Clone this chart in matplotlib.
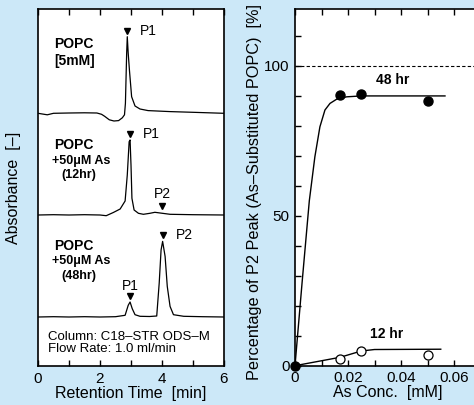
import matplotlib
matplotlib.use('Agg')
import matplotlib.pyplot as plt

plt.rcParams['font.family'] = ['Liberation Sans', 'DejaVu Sans']

BG = '#cce8f8'

# --- chromatograms: retention time [min] and absorbance above baseline [a.u.]
t_popc = [0.0, 0.3, 0.5, 1.0, 1.5, 1.9, 2.05, 2.15, 2.3, 2.45, 2.6, 2.72, 2.79,
          2.82, 2.86, 2.88, 2.91, 2.95, 3.02, 3.13, 3.29, 3.55, 4.26, 5.0, 6.0]
a_popc = [0.0, -1.5, 0.0, 0.3, 0.5, 0.3, -1.0, -3.0, -6.5, -7.7, -7.3, -4.5, -1.5,
          10.0, 60.0, 76.6, 60.0, 43.0, 16.6, 7.3, 4.3, 2.7, 1.7, 1.0, 0.0]

t_12hr = [0.0, 0.5, 1.0, 1.5, 2.0, 2.2, 2.43, 2.65, 2.81, 2.88, 2.94, 2.97, 3.0,
          3.03, 3.1, 3.24, 3.4, 3.61, 3.77, 3.94, 4.26, 5.0, 6.0]
a_12hr = [0.0, 0.3, 0.0, 0.3, 0.0, -0.7, 2.5, 6.0, 14.0, 40.0, 73.3, 75.0, 50.0,
          16.7, 5.0, 1.7, 0.7, 1.7, 2.7, 2.0, 0.7, 0.3, 0.0]

t_48hr = [0.0, 0.5, 1.0, 1.5, 2.0, 2.5, 2.81, 2.91, 2.97, 3.04, 3.13, 3.29, 3.6,
          3.83, 3.91, 3.97, 4.02, 4.1, 4.17, 4.26, 4.37, 4.7, 5.3, 6.0]
a_48hr = [0.0, 0.3, 0.0, 0.3, 0.0, 0.3, 1.7, 11.7, 15.0, 8.3, 2.3, 0.7, 0.5,
          1.0, 34.0, 67.0, 75.6, 60.6, 30.6, 10.6, 2.3, 0.7, 0.3, 0.0]

# peak marks
peak_t = [2.88, 2.97, 4.0, 2.97, 4.02]
peak_a = [76.6, 75.0, 2.7, 15.0, 75.6]
peak_lbl = ['P1', 'P1', 'P2', 'P1', 'P2']
peak_trace = [0, 1, 1, 2, 2]

# sample labels, one entry per line: (text, x [min], font size)
sample_lbl = [
    [('POPC', 0.53, 10), ('[5mM]', 0.53, 10)],
    [('POPC', 0.53, 10), ('+50\u03bcM As', 0.45, 9), ('(12hr)', 0.77, 9)],
    [('POPC', 0.53, 10), ('+50\u03bcM As', 0.45, 9), ('(48hr)', 0.77, 9)],
]
sample_y = [[322, 304.5], [220.5, 205, 191], [120, 105, 90]]

# --- percentage of P2 peak vs As concentration
conc_48 = [0.0, 0.017, 0.025, 0.050]
pct_48 = [0.0, 90.3, 90.7, 88.4]
conc_12 = [0.017, 0.025, 0.050]
pct_12 = [2.2, 5.0, 3.6]

fit48_x = [0.0, 0.0027, 0.0054, 0.0075, 0.0094, 0.0113, 0.0132, 0.0157, 0.0195, 0.025, 0.0566]
fit48_y = [0.0, 28.0, 55.0, 69.7, 79.7, 85.3, 87.5, 88.9, 89.7, 90.0, 90.0]
fit12_x = [0.0, 0.017, 0.025, 0.030, 0.055]
fit12_y = [0.0, 2.8, 4.9, 5.4, 5.5]

fig = plt.figure(figsize=(4.74, 4.05), dpi=100)
fig.patch.set_facecolor(BG)

# ---------------- left panel
ax1 = fig.add_axes([38 / 474, 39 / 405, 186 / 474, 357 / 405])
ax1.set_facecolor('white')
offsets = [252.7, 151.0, 49.0]
traces = [(t_popc, a_popc), (t_12hr, a_12hr), (t_48hr, a_48hr)]
for (t, a), off in zip(traces, offsets):
    ax1.plot(t, [v + off for v in a], color='black', lw=0.9)

for tr, pt, pa, lbl in zip(peak_trace, peak_t, peak_a, peak_lbl):
    y = offsets[tr] + pa + 6
    ax1.plot(pt, y, marker='v', color='black', ms=5, ls='none')
    if tr == 2 and lbl == 'P1':
        ax1.text(pt, y + 10, lbl, ha='center', va='center', fontsize=10)
    elif tr == 1 and lbl == 'P2':
        ax1.text(pt, y + 12, lbl, ha='center', va='center', fontsize=10)
    else:
        ax1.text(pt + 0.42, y, lbl, ha='left', va='center', fontsize=10)

for lines, ys in zip(sample_lbl, sample_y):
    for (txt, x, fs), y in zip(lines, ys):
        ax1.text(x, y, txt, ha='left', va='center', fontsize=fs, fontweight='bold')

ax1.text(0.33, 23, 'Column: C18\u2013STR ODS\u2013M\nFlow Rate: 1.0 ml/min',
         ha='left', va='center', fontsize=9.5, linespacing=1.0)

ax1.set_xlim(0, 6)
ax1.set_ylim(0, 357)
ax1.set_xticks([0, 1, 2, 3, 4, 5, 6])
ax1.set_xticklabels(['0', '', '2', '', '4', '', '6'])
ax1.set_yticks([])
ax1.tick_params(axis='x', direction='in', top=True, length=4, width=1,
                labelsize=11, pad=4)
for s in ax1.spines.values():
    s.set_linewidth(1.2)
ax1.set_xlabel('Retention Time  [min]', fontsize=11.5, labelpad=0)
fig.text(13.5 / 474, 1 - 188 / 405, 'Absorbance  [\u2013]', rotation=90,
         ha='center', va='center', fontsize=11.5)

# ---------------- right panel
ax2 = fig.add_axes([295 / 474, 39.3 / 405, 185.5 / 474, 356.7 / 405])
ax2.set_facecolor('white')
ax2.axhline(100, color='black', lw=0.8, ls=(0, (3, 2)))
ax2.plot(fit48_x, fit48_y, color='black', lw=1.0)
ax2.plot(fit12_x, fit12_y, color='black', lw=1.0)
ax2.plot(conc_48, pct_48, 'o', color='black', ms=6.5, clip_on=False, zorder=5)
ax2.plot(conc_12, pct_12, 'o', mfc='white', mec='black', mew=0.9, ms=6.5,
         clip_on=False, zorder=5)
ax2.text(0.0367, 93.0, '48 hr', ha='center', va='bottom', fontsize=10,
         fontweight='bold')
ax2.text(0.0345, 8.3, '12 hr', ha='center', va='bottom', fontsize=10,
         fontweight='bold')

ax2.set_xlim(0, 0.07)
ax2.set_ylim(0, 119)
ax2.set_xticks([0, 0.01, 0.02, 0.03, 0.04, 0.05, 0.06, 0.07])
ax2.set_xticklabels(['0', '', '0.02', '', '0.04', '', '0.06', ''])
ax2.set_yticks(range(0, 120, 10))
ax2.set_yticklabels(['0', '', '', '', '', '50', '', '', '', '', '100', ''])
ax2.tick_params(direction='in', top=True, length=4, width=1, labelsize=11, pad=4)
for s in ax2.spines.values():
    s.set_linewidth(1.2)
ax2.set_xlabel('As Conc.  [mM]', fontsize=11.5, labelpad=0)
fig.text(255 / 474, 1 - 192 / 405,
         'Percentage of P2 Peak (As\u2013Substituted POPC)  [%]', rotation=90,
         ha='center', va='center', fontsize=11.7)

fig.savefig('out.png', dpi=100, facecolor=BG)
